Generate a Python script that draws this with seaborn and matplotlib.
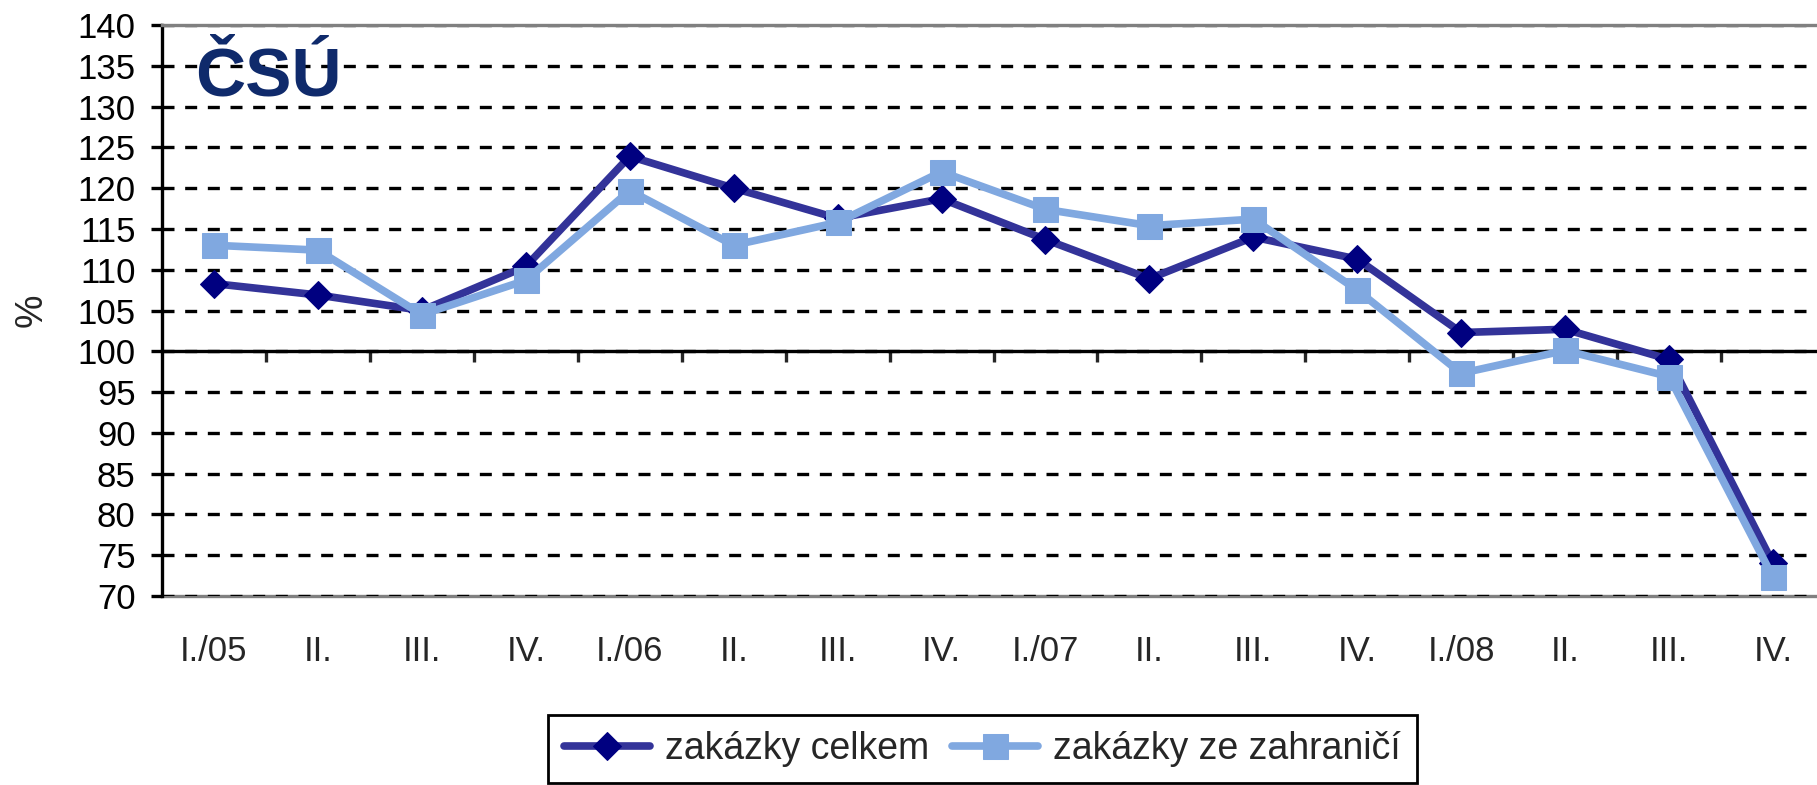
import numpy as np
import pandas as pd
import matplotlib
matplotlib.use('Agg')
import matplotlib.pyplot as plt
import seaborn as sns

# quarterly values (%)
kvartaly = ['I./05', 'II.', 'III.', 'IV.', 'I./06', 'II.', 'III.', 'IV.',
            'I./07', 'II.', 'III.', 'IV.', 'I./08', 'II.', 'III.', 'IV.']
celkem = [108.3, 106.9, 105.0, 110.4, 123.9, 120.0, 116.3, 118.7,
          113.7, 108.9, 114.0, 111.3, 102.3, 102.7, 99.0, 74.0]
zahranici = [113.0, 112.4, 104.5, 108.7, 119.7, 113.0, 115.8, 122.0,
             117.4, 115.4, 116.2, 107.5, 97.3, 100.1, 96.9, 72.3]
y_ticks = list(range(70, 141, 5))

sns.set_style('white')
plt.rcParams['font.family'] = ['Liberation Sans', 'DejaVu Sans']
plt.rcParams['font.size'] = 25

pos = np.arange(len(kvartaly))
df = pd.DataFrame({'poz': pos, 'celkem': celkem, 'zahranici': zahranici})

fig = plt.figure(figsize=(18.17, 7.85), dpi=100)
ax = fig.add_axes([162 / 1817, 1 - 596 / 785, (1825 - 162) / 1817, (596 - 25) / 785])

sns.lineplot(data=df, x='poz', y='celkem', ax=ax, color='#333399', lw=5.5,
             marker='D', markersize=14, markerfacecolor='#000080',
             markeredgecolor='#000080', label='zakázky celkem', zorder=3)
sns.lineplot(data=df, x='poz', y='zahranici', ax=ax, color='#80A8E0', lw=5.5,
             marker='s', markersize=18, markerfacecolor='#80A8E0',
             markeredgecolor='#80A8E0', label='zakázky ze zahraničí', zorder=4)

ax.set_xlim(-0.5, len(kvartaly) - 0.5)
ax.set_ylim(70, 140)
ax.set_yticks(y_ticks)
ax.grid(axis='y', color='black', linestyle=(0, (3.6, 3.2)), lw=2.4)
ax.grid(axis='x', visible=False)
ax.set_axisbelow(True)

# x axis line crosses at 100 with ticks between quarters
ax.spines['bottom'].set_position(('data', 100))
ax.spines['bottom'].set_color('black')
ax.spines['bottom'].set_linewidth(2.4)
ax.set_xticks(np.arange(0.5, len(kvartaly) - 0.5, 1))
ax.tick_params(axis='x', direction='out', length=8, width=2.4, labelbottom=False,
               bottom=True)
ax.spines['left'].set_color('black')
ax.spines['left'].set_linewidth(2.4)
ax.spines['top'].set_color('#808080')
ax.spines['top'].set_linewidth(2.4)
ax.spines['right'].set_visible(False)
ax.tick_params(axis='y', direction='out', length=8, width=2.4, pad=11, left=True,
               colors='black')

# quarter labels below the plot area
sec = ax.secondary_xaxis(0)
sec.set_xticks(pos, labels=kvartaly)
sec.tick_params(length=0, pad=28)
sec.spines['bottom'].set_color('#808080')
sec.spines['bottom'].set_linewidth(2.4)

ax.set_xlabel('')
ax.set_ylabel('%', fontsize=27)
ax.yaxis.set_label_coords((50 - 162) / 1663, 0.5)

# logo
fig.text(268 / 1817, 1 - 95 / 785, 'ČSÚ', ha='center', va='baseline',
         fontsize=50, fontweight='bold', color='#0f2a6b')

ax.get_legend().remove()
handles, labels = ax.get_legend_handles_labels()
leg = fig.legend(handles, labels, loc='upper left',
                 bbox_to_anchor=(548 / 1817, 1 - 715 / 785),
                 bbox_transform=fig.transFigure, ncol=2, fancybox=False,
                 framealpha=1, edgecolor='black', borderpad=0.42,
                 handlelength=2.3, handletextpad=0.4, columnspacing=0.6,
                 borderaxespad=0, fontsize=27)
leg.get_frame().set_linewidth(2)

plt.savefig('out.png', dpi=100)
